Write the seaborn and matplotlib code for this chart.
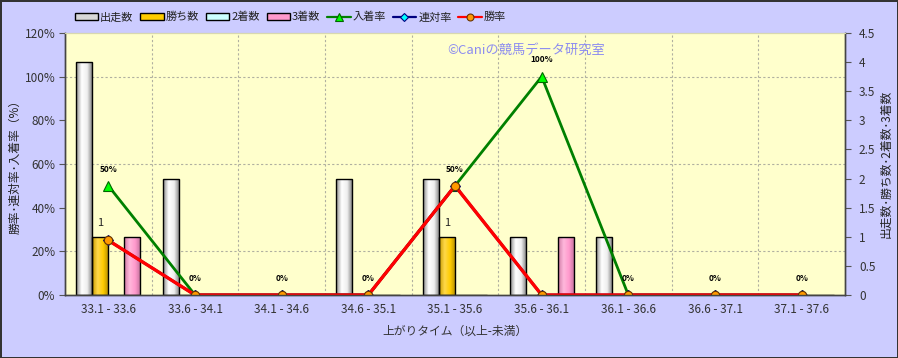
import numpy as np
import pandas as pd
import matplotlib
matplotlib.use('Agg')
import matplotlib.pyplot as plt
import seaborn as sns
from matplotlib.ticker import MultipleLocator, FixedLocator, FormatStrFormatter
from matplotlib.lines import Line2D
from matplotlib.patches import Patch
from matplotlib.colors import LinearSegmentedColormap

# ---------------- data ----------------
categories = ["33.1 - 33.6", "33.6 - 34.1", "34.1 - 34.6", "34.6 - 35.1", "35.1 - 35.6",
              "35.6 - 36.1", "36.1 - 36.6", "36.6 - 37.1", "37.1 - 37.6"]
runs = [4, 2, 0, 2, 2, 1, 1, 0, 0]          # 出走数
wins = [1, 0, 0, 0, 1, 0, 0, 0, 0]          # 勝ち数
seconds = [0, 0, 0, 0, 0, 0, 0, 0, 0]       # 2着数
thirds = [1, 0, 0, 0, 0, 1, 0, 0, 0]        # 3着数
place_rate = [50, 0, 0, 0, 50, 100, 0, 0, 0]   # 入着率
rentai_rate = [25, 0, 0, 0, 50, 0, 0, 0, 0]    # 連対率
win_rate = [25, 0, 0, 0, 50, 0, 0, 0, 0]       # 勝率

count_names = ["出走数", "勝ち数", "2着数", "3着数"]
rate_names = ["入着率", "連対率", "勝率"]

bar_colors = ["#E8E8E8", "#FFCC00", "#CCFFFF", "#FF99CC"]
bar_grads = [["#8a8a8a", "#ffffff", "#eeeeee", "#7a7a7a"],
             ["#c89a00", "#ffd84a", "#ffcc00", "#b08a00"],
             ["#99cccc", "#e8ffff", "#ccffff", "#88bbbb"],
             ["#d07aa5", "#ffb8dc", "#ff99cc", "#c0709a"]]

sns.set_theme(style="white")
plt.rcParams['font.family'] = ['Noto Sans CJK JP', 'DejaVu Sans']

df = pd.DataFrame({
    "cat": categories * 4,
    "series": np.repeat(count_names, len(categories)),
    "value": runs + wins + seconds + thirds,
})

fig = plt.figure(figsize=(8.98, 3.58), dpi=100, facecolor="#CCCCFF")
ax = fig.add_axes([0.0724, 0.176, 0.8686, 0.732])
ax.set_facecolor("#FFFFCC")

sns.barplot(data=df, x="cat", y="value", hue="series", hue_order=count_names,
            order=categories, palette=bar_colors, width=0.74, gap=0,
            edgecolor="black", linewidth=1, saturation=1, legend=False, ax=ax)

# cylinder-like gradients on bars
for cont, cols in zip(ax.containers, bar_grads):
    cmap = LinearSegmentedColormap.from_list("g", cols)
    for p in cont.patches:
        if p.get_height() <= 0:
            continue
        x0, y0 = p.get_x(), p.get_y()
        x1, y1 = x0 + p.get_width(), y0 + p.get_height()
        im = ax.imshow(np.linspace(0, 1, 64)[None, :], extent=[x0, x1, y0, y1],
                       aspect="auto", cmap=cmap, zorder=2, interpolation="bilinear")
        im.set_clip_path(p)
        p.set_facecolor("none")
        p.set_zorder(2.5)

# bar labels for wins
ax.bar_label(ax.containers[1], labels=[str(w) if w else "" for w in wins],
             padding=6, fontsize=8, color="#222222")

# ---------------- rate lines ----------------
ax2 = ax.twinx()
line_specs = [
    (place_rate, "#008000", "^", "#00FF00", "#006600", 7, 2.0),
    (rentai_rate, "#000080", "D", "#00FFFF", "#000080", 5, 2.0),
    (win_rate, "#FF0000", "o", "#FF9900", "#663300", 6, 2.4),
]
for vals, lc, mk, mfc, mec, ms, lw in line_specs:
    sns.pointplot(x=categories, y=vals, order=categories, color=lc, markers=mk,
                  errorbar=None, ax=ax2, linewidth=lw, markersize=ms,
                  markerfacecolor=mfc, markeredgecolor=mec, markeredgewidth=0.8)

# percentage labels from the 入着率 line
place_line = ax2.lines[0]
xs, ys = place_line.get_data()
for xv, yv, v in zip(xs, ys, place_rate):
    ax2.annotate(f"{v}%", (xv, yv), xytext=(0, 12), textcoords="offset points",
                 ha="center", va="center", fontsize=6, fontweight="bold", color="black")

# ---------------- count axis (right) ----------------
ax.set_xlim(-0.5, len(categories) - 0.5)
ax.set_ylim(0, 4.5)
ax.yaxis.tick_right()
ax.yaxis.set_label_position("right")
ax.set_yticks(np.arange(0, 4.51, 0.5))
ax.yaxis.set_major_formatter(FormatStrFormatter("%g"))
ax.yaxis.set_minor_locator(MultipleLocator(0.75))
ax.xaxis.set_minor_locator(FixedLocator(np.arange(0.5, len(categories) - 0.5, 1)))
ax.set_axisbelow(True)
ax.grid(which="minor", axis="both", color="#b0b0a0", linestyle=(0, (2, 2)), linewidth=0.8)
ax.grid(which="major", visible=False)
ax.tick_params(axis="y", which="minor", length=0, left=False, right=False)
ax.tick_params(axis="y", which="major", length=4, width=0.8, color="#555555",
               direction="out", labelsize=8.5, labelcolor="#333333", pad=6,
               left=False, labelleft=False, right=True, labelright=True)
ax.tick_params(axis="x", which="major", length=0, labelsize=8.5, labelcolor="#333333", pad=6)
ax.tick_params(axis="x", which="minor", length=3, color="#555555")
ax.set_xlabel("上がりタイム（以上-未満）", fontsize=8.5, color="#333333", labelpad=6)
ax.set_ylabel("出走数･勝ち数･2着数･3着数", fontsize=8.5, color="#222222", rotation=90, labelpad=3)

# ---------------- percent axis (left) ----------------
ax2.set_xlim(-0.5, len(categories) - 0.5)
ax2.set_ylim(0, 120)
ax2.yaxis.set_major_locator(MultipleLocator(20))
ax2.yaxis.set_major_formatter(FormatStrFormatter("%d%%"))
ax2.tick_params(axis="y", length=4, width=0.8, color="#555555", direction="out",
                labelsize=8.5, labelcolor="#333333", pad=3,
                left=True, labelleft=True, right=False, labelright=False)
ax2.yaxis.set_label_position("left")
ax2.set_ylabel("勝率･連対率･入着率（%）", fontsize=8.5, color="#222222", labelpad=2)
ax2.grid(False)
ax2.set_xlabel("")

for a in (ax, ax2):
    for s in ("left", "bottom", "right"):
        a.spines[s].set_color("#444444")
        a.spines[s].set_linewidth(1)
    a.spines["top"].set_color("#d8d8b0")
    a.spines["top"].set_linewidth(0.8)

# watermark
ax2.text(0.49, 0.935, "©Caniの競馬データ研究室", transform=ax2.transAxes,
         ha="left", va="center", fontsize=9.5, color="#8c8cf0")

# legend
handles = [Patch(facecolor=c, edgecolor="black", linewidth=1) for c in ["#d8d8d8", "#FFCC00", "#CCFFFF", "#FF99CC"]]
for vals, lc, mk, mfc, mec, ms, lw in line_specs:
    handles.append(Line2D([], [], color=lc, linewidth=1.6, marker=mk, markersize=ms - 1,
                          markerfacecolor=mfc, markeredgecolor=mec, markeredgewidth=0.8))
fig.legend(handles, count_names + rate_names, loc="center left", bbox_to_anchor=(0.072, 0.952),
           ncol=7, frameon=False, fontsize=8, handlelength=2.1, handleheight=0.5,
           columnspacing=0.6, handletextpad=0.2, labelcolor="#222222")

fig.patch.set_edgecolor("#333333")
fig.patch.set_linewidth(2)
fig.savefig("out.png", dpi=100, facecolor=fig.get_facecolor(), edgecolor=fig.get_edgecolor())
